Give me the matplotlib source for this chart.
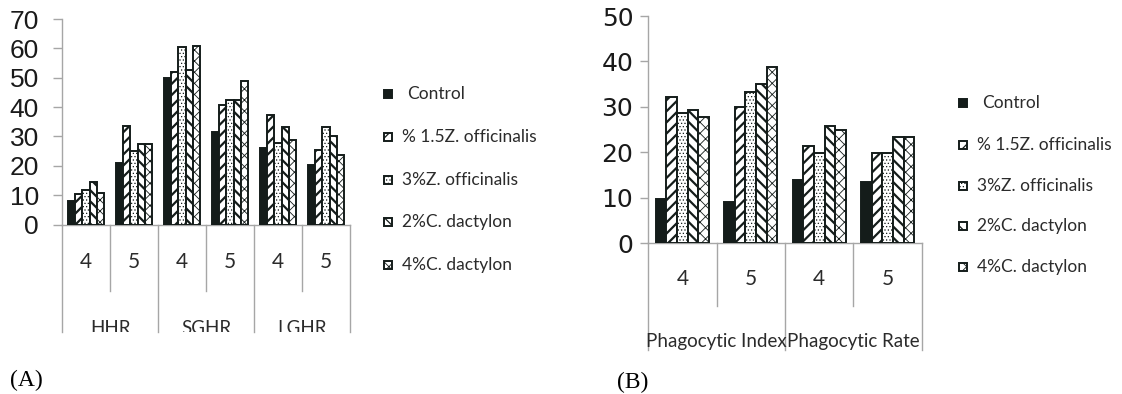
import matplotlib
matplotlib.use("Agg")
import matplotlib.pyplot as plt
import numpy as np
from matplotlib.patches import Rectangle
from matplotlib.transforms import Bbox, TransformedBbox

# ---- data ----
series = ["Control", "% 1.5Z. officinalis", "3%Z. officinalis",
          "2%C. dactylon", "4%C. dactylon"]

a_groups = ["HHR", "SGHR", "LGHR"]
a_sub = ["4", "5", "4", "5", "4", "5"]
a_control = [8, 21, 50, 31.5, 26, 20.3]
a_z15 = [10.3, 33.7, 52, 40.7, 37.4, 25.5]
a_z3 = [11.6, 25, 60.3, 42.5, 27.8, 33.1]
a_c2 = [14.4, 27.3, 52.5, 42.5, 33.3, 30.3]
a_c4 = [10.8, 27.3, 60.7, 49, 28.9, 23.7]

b_groups = ["Phagocytic Index", "Phagocytic Rate"]
b_sub = ["4", "5", "4", "5"]
b_control = [9.7, 9.0, 14.0, 13.5]
b_z15 = [32.1, 29.9, 21.3, 19.9]
b_z3 = [28.6, 33.3, 19.8, 19.9]
b_c2 = [29.3, 35.0, 25.8, 23.4]
b_c4 = [27.7, 38.7, 25.0, 23.4]

# ---- styles ----
DARK = "#141c1a"
GRID = "#a6a6a6"
TXT = "#2b2b2b"
hatches = [None, "///", ".....", "\\\\\\", "xxx"]
hatch_lw = [1.0, 1.6, 0.5, 1.6, 0.6]
faces = [DARK, "white", "white", "white", "white"]

W, H = 1122, 394
fig = plt.figure(figsize=(W / 100, H / 100), dpi=100)


def px_axes(left, right, y0, ytop):
    # pixel box -> figure fraction axes
    return fig.add_axes([left / W, (H - y0) / H, (right - left) / W, (y0 - ytop) / H])


def draw_panel(ax, values, sub, groups, width, ymax, tickfont, pad, ticklen,
               sub_y, inner_end, outer_end, grp_top, clip_px, y0_px, ypx):
    n = len(sub)
    x = np.arange(n)
    for j, vals in enumerate(values):
        with plt.rc_context({"hatch.linewidth": hatch_lw[j]}):
            ax.bar(x + (j - 2) * width, vals, width, color=faces[j],
                   edgecolor=DARK, linewidth=1.4, hatch=hatches[j], zorder=3)
    ax.set_xlim(-0.5, n - 0.5)
    ax.set_ylim(0, ymax)
    ax.set_yticks(np.arange(0, ymax + 1, 10))
    ax.set_xticks([])
    for s in ("top", "right"):
        ax.spines[s].set_visible(False)
    for s in ("left", "bottom"):
        ax.spines[s].set_color(GRID)
        ax.spines[s].set_linewidth(1.0)
    ax.tick_params(axis="y", length=ticklen, width=1.0, color=GRID, pad=pad,
                   labelcolor="#1a1a1a")
    for lab in ax.get_yticklabels():
        lab.set_fontproperties(tickfont)

    tr = ax.get_xaxis_transform()
    to_ax = lambda p: (y0_px - p) / ypx
    # separators under the axis
    per = n // len(groups)
    for k in range(n + 1):
        end = outer_end if k % per == 0 else inner_end
        ax.plot([k - 0.5, k - 0.5], [0, to_ax(end)], transform=tr,
                color=GRID, lw=1.0, clip_on=False)
    for k, s in enumerate(sub):
        ax.text(k, to_ax(sub_y), s, transform=tr, ha="center", va="center",
                fontsize=15, family="Lato", color=TXT)
    clip = TransformedBbox(Bbox([[0, (H - clip_px) / H], [1, 1]]), fig.transFigure)
    for g, name in enumerate(groups):
        t = fig.text(g * per + per / 2 - 0.5, to_ax(grp_top), name, transform=tr,
                     ha="center", va="top", fontsize=13.5, family="Lato",
                     color=TXT)
        t.set_clip_on(True)
        t.set_clip_box(clip)


def draw_legend(xm, ys, xt):
    for j, (lab, y) in enumerate(zip(series, ys)):
        with plt.rc_context({"hatch.linewidth": min(hatch_lw[j], 0.9)}):
            r = Rectangle(((xm - 4) / W, (H - y - 4) / H), 8 / W, 8 / H,
                          transform=fig.transFigure, facecolor=faces[j],
                          edgecolor=DARK, linewidth=1.4, hatch=hatches[j])
        fig.add_artist(r)
        dx = 5 if j == 0 else 0
        fig.text((xt + dx) / W, (H - y) / H, lab, ha="left", va="center",
                 fontsize=12.5, family="Lato", color=TXT)


# ---- panel A ----
axA = px_axes(62, 350, 224.5, 19)
draw_panel(axA, [a_control, a_z15, a_z3, a_c2, a_c4], a_sub, a_groups, 0.151, 70,
           {"family": "Liberation Sans", "size": 19}, 10, 6.5,
           262, 291, 332, 320, 332, 224.5, 205.5)
draw_legend(388, [94, 137, 180, 222, 265], 402)

# ---- panel B ----
axB = px_axes(648.3, 921.7, 243.3, 16)
draw_panel(axB, [b_control, b_z15, b_z3, b_c2, b_c4], b_sub, b_groups, 0.156, 50,
           {"family": "DejaVu Sans", "size": 18}, 5, 5.8,
           279, 306, 350, 333, 350, 243.3, 227.3)
draw_legend(963, [103, 145, 186, 226, 267], 977)

fig.text(10 / W, (H - 380) / H, "(A)", family="Liberation Serif", fontsize=17,
         ha="left", va="center")
fig.text(617 / W, (H - 382) / H, "(B)", family="Liberation Serif", fontsize=17,
         ha="left", va="center")

fig.savefig("out.png", dpi=100)
